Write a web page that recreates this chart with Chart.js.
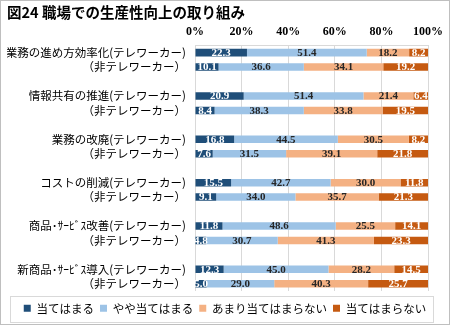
<!DOCTYPE html>
<html>
<head>
<meta charset="utf-8">
<script src="https://cdn.jsdelivr.net/npm/chart.js@4"></script>
<style>
    body { margin: 0; background: #fff; }
    #wrap { width: 450px; height: 325px; box-sizing: border-box; border: 1px solid #bfbfbf; }
    canvas { display: block; }
</style>
</head>
<body>
<div id="wrap"><canvas id="chart" width="448" height="323"></canvas></div>
<script>
// カテゴリ（空欄はグループ間のすき間）
const rowLabels = [
    '業務の進め方効率化(テレワーカー)', '（非テレワーカー）', '',
    '情報共有の推進(テレワーカー)', '（非テレワーカー）', '',
    '業務の改廃(テレワーカー)', '（非テレワーカー）', '',
    'コストの削減(テレワーカー)', '（非テレワーカー）', '',
    '商品･ｻｰﾋﾞｽ改善(テレワーカー)', '（非テレワーカー）', '',
    '新商品･ｻｰﾋﾞｽ導入(テレワーカー)', '（非テレワーカー）'
];
const seriesNames = ['当てはまる', 'やや当てはまる', 'あまり当てはまらない', '当てはまらない'];
const atehamaru = [22.3, 10.1, null, 20.9, 8.4, null, 16.8, 7.6, null, 15.5, 9.1, null, 11.8, 4.8, null, 12.3, 5.0];
const yaya = [51.4, 36.6, null, 51.4, 38.3, null, 44.5, 31.5, null, 42.7, 34.0, null, 48.6, 30.7, null, 45.0, 29.0];
const amari = [18.2, 34.1, null, 21.4, 33.8, null, 30.5, 39.1, null, 30.0, 35.7, null, 25.5, 41.3, null, 28.2, 40.3];
const atehamaranai = [8.2, 19.2, null, 6.4, 19.5, null, 8.2, 21.8, null, 11.8, 21.3, null, 14.1, 23.3, null, 14.5, 25.7];
const xTicks = [0, 20, 40, 60, 80, 100];

const colors = ['#1f4e79', '#9dc3e6', '#f4b183', '#c55a11'];
const labelColors = ['#ffffff', '#262626', '#262626', '#ffffff'];

// バーの中に数値を描く
const barValues = {
    id: 'barValues',
    afterDatasetsDraw(chart) {
        const ctx = chart.ctx;
        ctx.save();
        ctx.font = 'bold 11px "Liberation Serif", serif';
        ctx.textAlign = 'center';
        ctx.textBaseline = 'middle';
        chart.data.datasets.forEach(function(ds, i) {
            const meta = chart.getDatasetMeta(i);
            meta.data.forEach(function(bar, j) {
                const v = ds.data[j];
                if (v === null) return;
                ctx.fillStyle = labelColors[i];
                ctx.fillText(v.toFixed(1), (bar.x + bar.base) / 2, bar.y + 0.5);
            });
        });
        ctx.restore();
    }
};

// 凡例は全幅の中央に置き、枠を描く
const legendBox = {
    id: 'legendBox',
    afterLayout(chart) {
        const lg = chart.legend;
        lg.left = 0;
        lg.right = chart.width;
        lg.width = chart.width;
    },
    afterDraw(chart) {
        const ctx = chart.ctx;
        ctx.save();
        ctx.strokeStyle = '#d9d9d9';
        ctx.lineWidth = 1;
        ctx.strokeRect(9.5, 295.5, 423, 26);
        ctx.restore();
    }
};

const datasets = [atehamaru, yaya, amari, atehamaranai].map(function(d, i) {
    return {
        label: seriesNames[i],
        data: d,
        backgroundColor: colors[i],
        borderWidth: 0,
        barPercentage: 1,
        categoryPercentage: 0.52
    };
});

new Chart(document.getElementById('chart'), {
    type: 'bar',
    data: { labels: rowLabels, datasets: datasets },
    plugins: [barValues, legendBox],
    options: {
        indexAxis: 'y',
        responsive: false,
        animation: false,
        layout: { padding: { left: 6, right: 21, top: 0, bottom: 0 } },
        plugins: {
            title: {
                display: true,
                text: '図24 職場での生産性向上の取り組み',
                align: 'start',
                color: '#000',
                font: { size: 14.5, weight: 'bold', family: '"Noto Sans CJK JP", sans-serif' },
                padding: { top: 3, bottom: 2 }
            },
            legend: {
                position: 'bottom',
                title: {
                    display: true,
                    text: ' ',
                    padding: 0,
                    font: { size: 5.5, lineHeight: 1 }
                },
                labels: {
                    boxWidth: 7,
                    boxHeight: 7,
                    padding: 6,
                    color: '#000',
                    font: { size: 11.5, family: '"Noto Sans CJK JP", sans-serif' }
                }
            },
            tooltip: { enabled: false }
        },
        scales: {
            x: {
                position: 'top',
                stacked: true,
                min: 0,
                max: 100,
                afterBuildTicks: function(scale) {
                    scale.ticks = xTicks.map(function(v) { return { value: v }; });
                },
                afterFit: function(scale) { scale.height = 22; },
                grid: { color: '#d9d9d9', drawTicks: false },
                border: { color: '#d9d9d9' },
                ticks: {
                    padding: 6,
                    color: '#000',
                    font: { size: 12, weight: 'bold', family: '"Liberation Serif", serif' },
                    callback: function(v) { return v + '%'; }
                }
            },
            y: {
                stacked: true,
                afterFit: function(scale) { scale.width = 188; },
                grid: { display: false, drawTicks: false },
                border: { display: false },
                ticks: {
                    padding: 9,
                    autoSkip: false,
                    color: '#000',
                    font: { size: 11.5, family: '"Noto Sans CJK JP", sans-serif' }
                }
            }
        }
    }
});
</script>
</body>
</html>
